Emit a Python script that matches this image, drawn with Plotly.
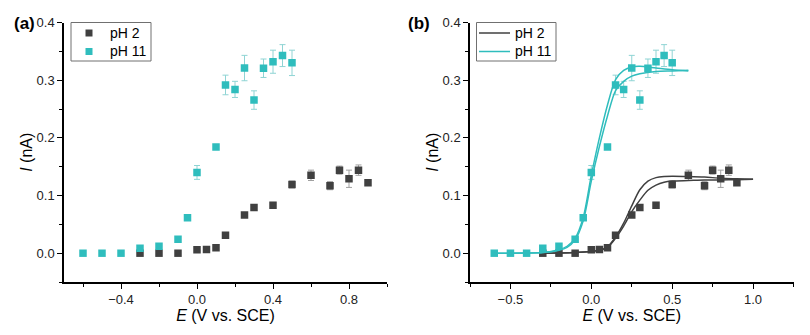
import plotly.graph_objects as go

# Measured current vs. potential
ph2_E = [-0.3, -0.2, -0.1, 0.0, 0.05, 0.1, 0.15, 0.25, 0.3, 0.4, 0.5, 0.6, 0.7, 0.75, 0.8, 0.85, 0.9]
ph2_I = [0.0, 0.0, 0.0, 0.006, 0.0065, 0.0093, 0.031, 0.066, 0.079, 0.083, 0.119, 0.135, 0.117, 0.144, 0.129, 0.144, 0.122]
ph2_err = [0.0, 0.0, 0.0, 0.002, 0.002, 0.002, 0.003, 0.003, 0.003, 0.005, 0.006, 0.009, 0.007, 0.007, 0.015, 0.009, 0.004]

ph11_E = [-0.6, -0.5, -0.4, -0.3, -0.2, -0.1, -0.05, 0.0, 0.1, 0.15, 0.2, 0.25, 0.3, 0.35, 0.4, 0.45, 0.5]
ph11_I = [0.0, 0.0, 0.0, 0.0087, 0.012, 0.024, 0.0615, 0.140, 0.184, 0.2917, 0.284, 0.321, 0.2655, 0.3207, 0.332, 0.3426, 0.330]
ph11_err = [0.0, 0.0, 0.0, 0.004, 0.003, 0.003, 0.003, 0.012, 0.004, 0.017, 0.014, 0.022, 0.016, 0.016, 0.020, 0.019, 0.022]

# Fitted curves (two fits per pH)
fit2_E = [-0.3, -0.2, -0.1, 0.0, 0.05, 0.1, 0.15, 0.2, 0.25, 0.3, 0.35, 0.4, 0.45, 0.5, 0.6, 0.7, 0.8, 0.9, 1.0]
fit2_a = [0.0, 0.0003, 0.001, 0.003, 0.005, 0.011, 0.028, 0.052, 0.082, 0.110, 0.125, 0.131, 0.133, 0.1335, 0.133, 0.132, 0.130, 0.129, 0.128]
fit2_b = [0.0, 0.0003, 0.001, 0.003, 0.005, 0.010, 0.026, 0.047, 0.072, 0.092, 0.109, 0.118, 0.123, 0.125, 0.126, 0.127, 0.127, 0.1275, 0.128]

fit11_E = [-0.6, -0.4, -0.3, -0.2, -0.15, -0.1, -0.05, 0.0, 0.05, 0.1, 0.15, 0.2, 0.25, 0.3, 0.4, 0.5, 0.6]
fit11_a = [0.0, 0.0002, 0.001, 0.006, 0.012, 0.026, 0.062, 0.135, 0.200, 0.257, 0.301, 0.317, 0.323, 0.324, 0.321, 0.318, 0.316]
fit11_b = [0.0, 0.0002, 0.001, 0.005, 0.010, 0.023, 0.056, 0.125, 0.185, 0.238, 0.282, 0.298, 0.307, 0.311, 0.315, 0.316, 0.317]

series_names = ["pH 2", "pH 11"]

GRAY = "#404040"
TEAL = "#2fbdbd"
GRAY_ERR = "#a0a0a0"
TEAL_ERR = "#8fd4d4"
FONT = "Liberation Sans, Arial, sans-serif"
W, H = 810, 335

fig = go.Figure()


def points(x, y, err, color, ecolor, name, xa, ya):
    return go.Scatter(
        x=x, y=y, mode="markers", name=name, xaxis=xa, yaxis=ya, showlegend=False,
        marker=dict(symbol="square", size=7.5, color=color),
        error_y=dict(type="data", array=err, visible=True, color=ecolor, thickness=1, width=3),
    )


# (a) data only
fig.add_trace(points(ph2_E, ph2_I, ph2_err, GRAY, GRAY_ERR, series_names[0], "x", "y"))
fig.add_trace(points(ph11_E, ph11_I, ph11_err, TEAL, TEAL_ERR, series_names[1], "x", "y"))

# (b) data with fits
fig.add_trace(points(ph2_E, ph2_I, ph2_err, GRAY, GRAY_ERR, series_names[0], "x2", "y2"))
fig.add_trace(points(ph11_E, ph11_I, ph11_err, TEAL, TEAL_ERR, series_names[1], "x2", "y2"))

for E, I, col, name in [
    (fit2_E, fit2_a, GRAY, series_names[0]),
    (fit2_E, fit2_b, GRAY, series_names[0]),
    (fit11_E, fit11_a, TEAL, series_names[1]),
    (fit11_E, fit11_b, TEAL, series_names[1]),
]:
    fig.add_trace(go.Scatter(
        x=E, y=I, mode="lines", name=name, xaxis="x2", yaxis="y2", showlegend=False,
        line=dict(color=col, width=1.5, shape="spline", smoothing=0.8),
    ))

axis_common = dict(
    showline=True, linecolor="black", linewidth=1.5, mirror=False,
    ticks="outside", ticklen=5, tickwidth=1.2, tickcolor="black",
    showgrid=False, zeroline=False, automargin=False,
    tickfont=dict(family=FONT, size=13, color="#222"),
)
title_font = dict(family=FONT, size=16, color="black")
minor_x_a = dict(dtick=0.2, tick0=0, ticks="outside", ticklen=3, tickcolor="black")
minor_x_b = dict(dtick=0.25, tick0=0, ticks="outside", ticklen=3, tickcolor="black")
minor_y = dict(dtick=0.05, tick0=0, ticks="outside", ticklen=3, tickcolor="black")

Y_DOMAIN = [1 - 282 / H, 1 - 22.5 / H]


def px(x):
    return x / W


def py(y):
    return 1 - y / H


# Legend boxes (drawn as shapes/annotations in paper space)
shapes = []
annotations = []
legend_text = dict(xref="paper", yref="paper", xanchor="left", yanchor="middle",
                   showarrow=False, font=dict(family=FONT, size=14, color="black"))
row_y = [33, 51.5]
colors = [GRAY, TEAL]

# (a): square markers
shapes.append(dict(type="rect", xref="paper", yref="paper", x0=px(71), x1=px(151),
                   y0=py(61), y1=py(22.5), line=dict(color="#707070", width=1),
                   fillcolor="white", layer="above"))
for name, c, ry in zip(series_names, colors, row_y):
    shapes.append(dict(type="rect", xref="paper", yref="paper",
                       x0=px(85.5), x1=px(92.5), y0=py(ry + 3.5), y1=py(ry - 3.5),
                       line=dict(width=0), fillcolor=c, layer="above"))
    annotations.append(dict(text=name, x=px(108), y=py(ry), **legend_text))

# (b): line samples
shapes.append(dict(type="rect", xref="paper", yref="paper", x0=px(476.5), x1=px(556),
                   y0=py(61), y1=py(22.5), line=dict(color="#707070", width=1),
                   fillcolor="white", layer="above"))
for name, c, ry in zip(series_names, colors, row_y):
    shapes.append(dict(type="line", xref="paper", yref="paper",
                       x0=px(479), x1=px(510), y0=py(ry), y1=py(ry),
                       line=dict(color=c, width=1.5), layer="above"))
    annotations.append(dict(text=name, x=px(513), y=py(ry), **legend_text))

# Panel labels
for label, x in [("(a)", 12), ("(b)", 406)]:
    annotations.append(dict(text=f"<b>{label}</b>", x=px(x), y=py(24), xref="paper", yref="paper",
                            xanchor="left", yanchor="middle", showarrow=False,
                            font=dict(family=FONT, size=17, color="black")))

fig.update_layout(
    template="none",
    width=W, height=H,
    margin=dict(l=0, r=0, t=0, b=0, pad=0, autoexpand=False),
    paper_bgcolor="white", plot_bgcolor="white",
    font=dict(family=FONT, color="black"),
    showlegend=False,
    xaxis=dict(
        domain=[64 / W, 387 / W], range=[-0.7, 1.0], tick0=-0.4, dtick=0.4,
        tickformat=".1f", minor=minor_x_a,
        title=dict(text="<i>E</i> (V vs. SCE)", font=title_font, standoff=3), anchor="y",
        **axis_common,
    ),
    yaxis=dict(
        domain=Y_DOMAIN, range=[-0.05, 0.4], dtick=0.1, tick0=0,
        tickformat=".1f", minor=minor_y,
        title=dict(text="<i>I</i> (nA)", font=title_font, standoff=0), anchor="x",
        **axis_common,
    ),
    xaxis2=dict(
        domain=[470 / W, 793.5 / W], range=[-0.75, 1.25], tick0=0, dtick=0.5,
        tickformat=".1f", minor=minor_x_b,
        title=dict(text="<i>E</i> (V vs. SCE)", font=title_font, standoff=3), anchor="y2",
        **axis_common,
    ),
    yaxis2=dict(
        domain=Y_DOMAIN, range=[-0.05, 0.4], dtick=0.1, tick0=0,
        tickformat=".1f", minor=minor_y,
        title=dict(text="<i>I</i> (nA)", font=title_font, standoff=0), anchor="x2",
        **axis_common,
    ),
    shapes=shapes,
    annotations=annotations,
)

fig.write_html("out.html")
